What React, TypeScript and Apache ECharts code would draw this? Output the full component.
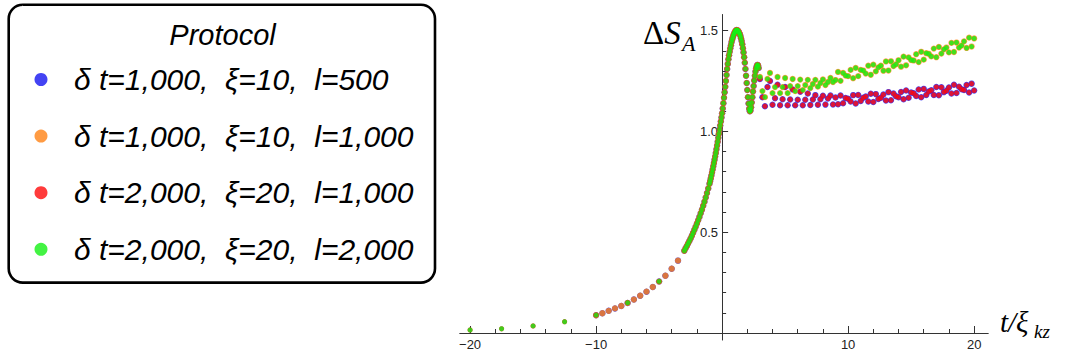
import React, { useEffect, useRef } from "react";
import * as echarts from "echarts";

// ---------- tick labels ----------
const xMajorTicks = [-20, -10, 10, 20];
const xMinorTicks = [-18, -16, -14, -12, -8, -6, -4, -2, 2, 4, 6, 8, 12, 14, 16, 18];
const yMajorTicks = [0.5, 1.0, 1.5];
const yMinorTicks = [0.1, 0.2, 0.3, 0.4, 0.6, 0.7, 0.8, 0.9, 1.1, 1.2, 1.3, 1.4];

// ---------- legend ----------
const seriesNames = [
  "δ t=1,000,\u00a0 ξ=10,\u00a0 l=500",
  "δ t=1,000,\u00a0 ξ=10,\u00a0 l=1,000",
  "δ t=2,000,\u00a0 ξ=20,\u00a0 l=1,000",
  "δ t=2,000,\u00a0 ξ=20,\u00a0 l=2,000",
];

// ---------- data (t / ξ_kz , ΔS_A) ----------
// sparse early points, ξ = 20 protocols
const coarseT = [-20, -17.5, -15, -12.5, -10, -7.5, -5];
const coarseY = [0.015, 0.021, 0.035, 0.056, 0.089, 0.15, 0.256];
// sparse early points, ξ = 10 protocols
const fineT = [-10, -9.5, -9, -8.5, -8, -7.5, -7, -6.5, -6, -5.5, -5, -4.5, -4, -3.5];
const fineY = [0.088, 0.098, 0.11, 0.122, 0.134, 0.149, 0.166, 0.185, 0.205, 0.228, 0.255, 0.284, 0.319, 0.359];
// dense rise, t from -3.0 step 0.1 (common to all protocols)
const riseAStart = -3.0;
const riseAStep = 0.1;
const riseAY = [0.408, 0.42, 0.432, 0.444, 0.456, 0.469, 0.483, 0.497, 0.512, 0.527, 0.543, 0.559, 0.576, 0.594, 0.612, 0.631, 0.651, 0.672, 0.694, 0.717];
// dense rise + first oscillations, t from -1.0 step 0.05
const riseBStart = -1.0;
const riseBStep = 0.05;
const riseBY = [
  0.74, 0.753, 0.767, 0.781, 0.796, 0.811, 0.827, 0.843, 0.859, 0.876, 0.893, 0.911, 0.93, 0.949, 0.969, 0.989, 1.009, 1.029, 1.049, 1.069, 1.09,
  1.114, 1.14, 1.167, 1.194, 1.221, 1.25, 1.28, 1.31, 1.335, 1.358, 1.378, 1.395, 1.412, 1.428, 1.443, 1.456, 1.467, 1.477, 1.485, 1.492,
  1.497, 1.501, 1.503, 1.502, 1.5, 1.496, 1.49, 1.483, 1.474, 1.462, 1.448, 1.432, 1.413, 1.392, 1.368, 1.341, 1.31, 1.276, 1.24, 1.205,
  1.17, 1.138, 1.112, 1.1, 1.104, 1.12, 1.143, 1.17, 1.198, 1.225, 1.252, 1.276, 1.297, 1.313, 1.324, 1.33, 1.328, 1.315,
];
// late-time bands, t from 3.0 step 0.2
const bandStart = 3.0;
const bandStep = 0.2;
// l/ξ = 50 (blue, red)
const lowBandY = [
  1.26, 1.17, 1.125, 1.22, 1.25, 1.132, 1.165, 1.232, 1.13, 1.16, 1.22, 1.13, 1.158, 1.208, 1.13, 1.157, 1.197, 1.13, 1.157, 1.188,
  1.131, 1.158, 1.18, 1.132, 1.16, 1.177, 1.133, 1.163, 1.178, 1.134, 1.168,
  1.135, 1.178, 1.14, 1.166, 1.162, 1.148, 1.18, 1.139, 1.181, 1.151, 1.167, 1.173, 1.148, 1.187, 1.146, 1.185, 1.161, 1.167, 1.183, 1.153,
  1.195, 1.155, 1.188, 1.174, 1.17, 1.196, 1.16, 1.203, 1.167, 1.193, 1.189, 1.176, 1.208, 1.169, 1.211, 1.181, 1.198, 1.204, 1.181, 1.22,
  1.179, 1.219, 1.195, 1.202, 1.218, 1.188, 1.231, 1.191, 1.222, 1.209, 1.205, 1.23, 1.193, 1.237, 1.203,
];
// l/ξ = 100 (orange, green)
const highBandY = [
  1.27, 1.2, 1.17, 1.26, 1.29, 1.19, 1.22, 1.27, 1.19, 1.22, 1.265, 1.19, 1.225, 1.26, 1.2, 1.225, 1.257, 1.205, 1.23, 1.256,
  1.215, 1.235, 1.256, 1.222, 1.24, 1.258, 1.23, 1.245, 1.265, 1.245, 1.255,
  1.295, 1.251, 1.29, 1.277, 1.274, 1.305, 1.264, 1.315, 1.274, 1.305, 1.302, 1.287, 1.326, 1.281, 1.331, 1.298, 1.318, 1.326, 1.301, 1.347,
  1.302, 1.348, 1.324, 1.333, 1.353, 1.321, 1.371, 1.328, 1.367, 1.354, 1.352, 1.383, 1.344, 1.395, 1.356, 1.388, 1.385, 1.372, 1.411, 1.368,
  1.419, 1.386, 1.407, 1.416, 1.392, 1.439, 1.394, 1.441, 1.416, 1.426, 1.447, 1.414, 1.465, 1.421, 1.461,
];

const seriesColors = ["#1414f0", "#ff8214", "#ff0a0a", "#14f014"];
const symbolSizes = [6.4, 6.2, 5.2, 5];

const r2 = (v: number) => Math.round(v * 1000) / 1000;
const pairs = (ts: number[], ys: number[]) => ys.map((y, i) => [ts[i], y]);
const grid = (start: number, step: number, ys: number[]) => ys.map((y, i) => [r2(start + i * step), y]);

const rise = [...grid(riseAStart, riseAStep, riseAY), ...grid(riseBStart, riseBStep, riseBY)];
const lowBand = grid(bandStart, bandStep, lowBandY);
const highBand = grid(bandStart, bandStep, highBandY);

const seriesData = [
  [...pairs(fineT, fineY), ...rise, ...lowBand],
  [...pairs(fineT, fineY), ...rise, ...highBand],
  [...pairs(coarseT, coarseY), ...rise, ...lowBand],
  [...pairs(coarseT, coarseY), ...rise, ...highBand],
];

const X_MIN = -20.8;
const X_MAX = 21.1;
const Y_MAX = 1.58;
const Y_AXIS_MIN = -0.035;

const fmtX = (v: number) => (v < 0 ? "\u2212" + Math.abs(v) : String(v));
const fmtY = (v: number) => v.toFixed(1);

const AXIS = "#333";
const LABEL = "#222";

export default function App() {
  const ref = useRef<HTMLDivElement>(null);
  useEffect(() => {
    if (!ref.current) return;
    const chart = echarts.init(ref.current, undefined, { renderer: "svg" });
    const W = 1071;
    const plotLeft = 460;
    const plotRight = 83;
    const plotTop = 14.5;
    const plotBottom = 25; // x axis (ΔS = 0)
    const zeroX = plotLeft + ((0 - X_MIN) / (X_MAX - X_MIN)) * (W - plotLeft - plotRight);
    const yAxisBottom = plotBottom - ((0 - Y_AXIS_MIN) / Y_MAX) * (358 - plotTop - plotBottom);
    const dataGrid = { left: plotLeft, right: plotRight, top: plotTop, bottom: plotBottom, containLabel: false, outerBoundsMode: "none" };
    const yGrid = { left: zeroX, right: plotRight, top: plotTop, bottom: yAxisBottom, containLabel: false, outerBoundsMode: "none" };
    const hiddenAxis = (gridIndex: number, min: number, max: number) => ({ type: "value", gridIndex, min, max, show: false });
    const line = { show: true, onZero: false, lineStyle: { color: AXIS, width: 1 } };
    const option: any = {
      animation: false,
      grid: [dataGrid, { ...dataGrid }, yGrid, { ...yGrid }],
      xAxis: [
        {
          type: "value",
          gridIndex: 0,
          min: X_MIN,
          max: X_MAX,
          position: "bottom",
          splitLine: { show: false },
          axisLine: line,
          axisTick: { show: true, inside: true, length: 7, customValues: xMajorTicks, lineStyle: { color: AXIS } },
          axisLabel: { show: true, customValues: xMajorTicks, formatter: fmtX, margin: 5, fontSize: 13, color: LABEL, fontFamily: "Liberation Sans" },
        },
        {
          type: "value",
          gridIndex: 1,
          min: X_MIN,
          max: X_MAX,
          position: "bottom",
          splitLine: { show: false },
          axisLine: line,
          axisTick: { show: true, inside: true, length: 4, customValues: xMinorTicks, lineStyle: { color: AXIS } },
          axisLabel: { show: false },
        },
        hiddenAxis(2, 0, X_MAX),
        hiddenAxis(3, 0, X_MAX),
      ],
      yAxis: [
        hiddenAxis(0, 0, Y_MAX),
        hiddenAxis(1, 0, Y_MAX),
        {
          type: "value",
          gridIndex: 2,
          min: Y_AXIS_MIN,
          max: Y_MAX,
          position: "left",
          splitLine: { show: false },
          axisLine: line,
          axisTick: { show: true, inside: true, length: 6, customValues: yMajorTicks, lineStyle: { color: AXIS } },
          axisLabel: { show: true, customValues: yMajorTicks, formatter: fmtY, margin: 4, fontSize: 13, color: LABEL, fontFamily: "Liberation Sans" },
        },
        {
          type: "value",
          gridIndex: 3,
          min: Y_AXIS_MIN,
          max: Y_MAX,
          position: "left",
          splitLine: { show: false },
          axisLine: { ...line, show: false },
          axisTick: { show: true, inside: true, length: 4, customValues: yMinorTicks, lineStyle: { color: AXIS } },
          axisLabel: { show: false },
        },
      ],
      legend: {
        orient: "vertical",
        left: 8.7,
        top: 4.7,
        padding: [59.8, 21.5, 18.3, 25.8],
        itemGap: 26.6,
        itemWidth: 13,
        itemHeight: 13,
        icon: "circle",
        selectedMode: false,
        borderColor: "#000",
        borderWidth: 2.6,
        borderRadius: 14,
        backgroundColor: "transparent",
        data: seriesNames,
        textStyle: { fontSize: 30, fontStyle: "italic", fontFamily: "Liberation Sans", color: "#000", lineHeight: 30, padding: [0, 0, 0, 21.5] },
      },
      graphic: [
        {
          type: "text",
          x: 222.5,
          y: 35,
          z: 50,
          style: { text: "Protocol", font: 'italic 29px "Liberation Sans"', fill: "#000", textAlign: "center", textVerticalAlign: "middle" },
        },
        {
          type: "text",
          x: 643,
          y: 33,
          z: 50,
          style: {
            text: "{d|Δ}{s|S}",
            rich: { d: { font: '33px "Liberation Serif"', fill: "#000" }, s: { font: 'italic 33px "Liberation Serif"', fill: "#000" } },
            fill: "#000",
            textAlign: "left",
            textVerticalAlign: "middle",
          },
        },
        {
          type: "text",
          x: 682,
          y: 43.5,
          z: 50,
          style: { text: "A", font: 'italic 22px "Liberation Serif"', fill: "#000", textAlign: "left", textVerticalAlign: "middle" },
        },
        {
          type: "text",
          x: 1000,
          y: 322,
          z: 50,
          style: { text: "t/ξ", font: 'italic 29px "Liberation Serif"', fill: "#000", textAlign: "left", textVerticalAlign: "middle" },
        },
        {
          type: "text",
          x: 1034,
          y: 331,
          z: 50,
          style: { text: "kz", font: 'italic 19px "Liberation Serif"', fill: "#000", textAlign: "left", textVerticalAlign: "middle" },
        },
      ],
      series: seriesNames.map((name, i) => ({
        name,
        type: "scatter",
        xAxisIndex: 0,
        yAxisIndex: 0,
        symbol: "circle",
        symbolSize: symbolSizes[i],
        itemStyle: { color: seriesColors[i] },
        data: seriesData[i],
        silent: true,
        clip: false,
        emphasis: { disabled: true },
        z: 2 + i,
      })),
    };
    chart.setOption(option);
    return () => chart.dispose();
  }, []);
  return <div ref={ref} style={{ position: "fixed", left: 0, top: 0, width: 1071, height: 358, background: "#fff" }} />;
}
